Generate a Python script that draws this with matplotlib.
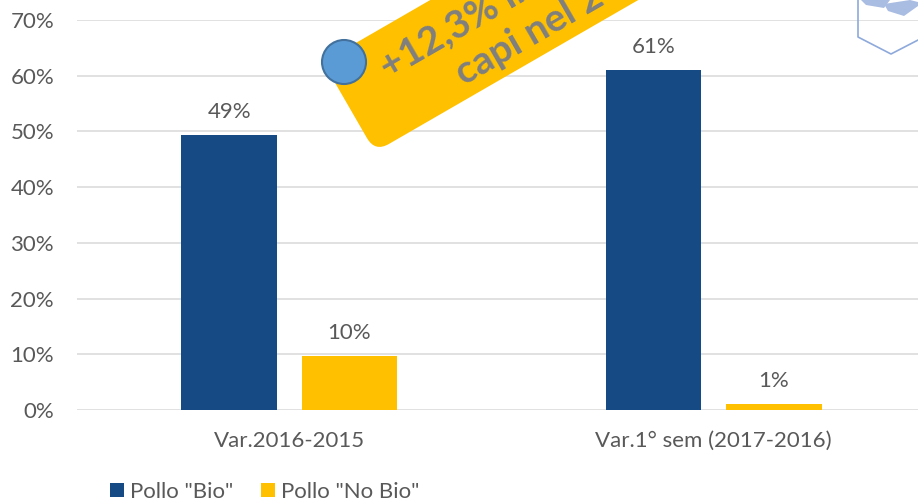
import numpy as np
import matplotlib
matplotlib.use("Agg")
import matplotlib.pyplot as plt
from matplotlib import patches
from matplotlib import transforms as mtransforms
from matplotlib.ticker import PercentFormatter

plt.rcParams['font.family'] = ['Lato', 'DejaVu Sans']

# data
categories = ['Var.2016-2015', 'Var.1° sem (2017-2016)']
series_names = ['Pollo "Bio"', 'Pollo "No Bio"']
bio = [0.493, 0.610]
no_bio = [0.097, 0.011]

blue = '#154A85'
yellow = '#FFC000'
text_grey = '#595959'
grid_grey = '#D9D9D9'
fs = 16

W, H = 918, 503
fig = plt.figure(figsize=(W / 100, H / 100), dpi=100)
ax = fig.add_axes([77 / W, 93 / H, 849 / W, 390 / H])

x = np.arange(len(categories))
bw = 0.225
off = 0.1415
b1 = ax.bar(x - off, bio, bw, color=blue, zorder=3, label=series_names[0])
b2 = ax.bar(x + off, no_bio, bw, color=yellow, zorder=3, label=series_names[1])

for bars in (b1, b2):
    for r in bars:
        v = r.get_height()
        ax.annotate(f'{v * 100:.0f}%', (r.get_x() + r.get_width() / 2, v),
                    xytext=(0, 12.2), textcoords='offset points',
                    ha='center', va='baseline', fontsize=fs, color=text_grey)

ax.set_xlim(-0.5, 1.5)
ax.set_ylim(0, 0.70)
ax.set_yticks(np.arange(0, 0.71, 0.1))
ax.yaxis.set_major_formatter(PercentFormatter(1.0, decimals=0))
ax.set_xticks(x, categories)
ax.tick_params(axis='both', length=0, labelsize=fs, labelcolor=text_grey)
ax.tick_params(axis='y', pad=16.5)
ax.tick_params(axis='x', pad=15)
ax.grid(axis='y', color=grid_grey, linewidth=1.1, zorder=0)
for s in ax.spines.values():
    s.set_visible(False)

fig.legend(handles=[b1, b2], labels=series_names, loc='center left',
           bbox_to_anchor=(110 / W, 1 - 492 / H), ncol=2, frameon=False,
           fontsize=fs, labelcolor=text_grey, borderpad=0, borderaxespad=0,
           handlelength=0.63, handleheight=0.63, handletextpad=0.27,
           columnspacing=1.26)

# rotated tag with note
px = mtransforms.Affine2D().scale(1 / 100) + fig.dpi_scale_trans
tag_tr = mtransforms.Affine2D().rotate_deg(30).translate(375, H - 152) + px
tag = patches.FancyBboxPatch((0, 0), 800, 104,
                             boxstyle='round,pad=0,rounding_size=16',
                             facecolor=yellow, edgecolor='none',
                             transform=tag_tr, zorder=5)
fig.patches.append(tag)
fig.text(48, 56, '+12,3% in numero di', transform=tag_tr, rotation=30,
         rotation_mode='anchor', ha='left', va='baseline', fontsize=28,
         fontweight='bold', color='#7F7F7F', zorder=6)
fig.text(110, 13, 'capi nel 2016', transform=tag_tr, rotation=30,
         rotation_mode='anchor', ha='left', va='baseline', fontsize=28,
         fontweight='bold', color='#7F7F7F', zorder=6)
hole = patches.Circle((344, H - 62), 22, facecolor='#5B9BD5',
                      edgecolor='#41719C', linewidth=1.5, transform=px,
                      zorder=7)
fig.patches.append(hole)

# logo corner
logo_blue = '#8EA9DB'
fig.lines.append(plt.Line2D([858, 858, 891, 920], [H, H - 37, H - 54, H - 39],
                            color=logo_blue, linewidth=1.2, transform=px,
                            zorder=5))
for pts in ([(861, 0), (890, 0), (884, 8), (866, 5)],
            [(884, 4), (910, 0), (918, 2), (918, 6), (904, 16), (888, 11)]):
    fig.patches.append(patches.Polygon([(a, H - b) for a, b in pts],
                                       closed=True, facecolor='#A9BCE2',
                                       edgecolor='none', transform=px,
                                       zorder=5))

fig.savefig('out.png', dpi=100)
